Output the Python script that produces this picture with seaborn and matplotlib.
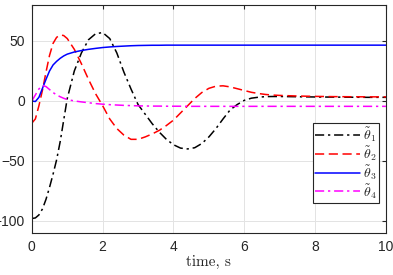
import pandas as pd
import seaborn as sns
import matplotlib.pyplot as plt

# time samples (s)
t = [0, 0.1, 0.2, 0.3, 0.4, 0.5, 0.6, 0.7, 0.8, 0.9, 1.0, 1.2, 1.4, 1.6, 1.8,
     2.0, 2.2, 2.4, 2.6, 2.8, 3.0, 3.2, 3.4, 3.6, 3.8, 4.0, 4.2, 4.4, 4.6, 4.8,
     5.0, 5.2, 5.4, 5.6, 5.8, 6.0, 6.2, 6.4, 6.6, 6.8, 7.0, 7.5, 8.0, 8.5, 9.0,
     9.5, 10.0]

theta1 = [-98, -97.5, -95, -90, -82, -72, -61, -49, -34, -16, 2, 25, 40, 51, 56,
          57, 52, 40, 24, 10, -3, -11, -19, -26, -32, -36.5, -39.3, -40, -39, -35.5,
          -30, -23, -15, -7.5, -3, 0.5, 2.3, 3.1, 3.6, 3.7, 3.7, 3.5, 3.3, 3.2, 3.1,
          3.0, 3.0]

theta2 = [-18.5, -15, -4, 9, 24, 38, 48, 53, 55, 54.5, 52, 43, 31, 18, 6,
          -4, -15, -23, -28.5, -32, -32, -30, -27.5, -24.5, -20.5, -16, -10, -4, 2, 7,
          10.5, 12.3, 12.6, 11.7, 10.2, 8.7, 7.2, 6.2, 5.4, 4.9, 4.6, 4.1, 3.8, 3.6, 3.5,
          3.4, 3.4]

theta3 = [0, -0.5, 3, 10.5, 18, 25, 30, 33, 35.5, 37.5, 39, 40.8, 42, 43, 43.8,
          44.5, 45, 45.4, 45.7, 46, 46.2, 46.3, 46.4, 46.4, 46.5, 46.5, 46.5, 46.5, 46.5, 46.5,
          46.5, 46.5, 46.5, 46.5, 46.5, 46.5, 46.5, 46.5, 46.5, 46.5, 46.5, 46.5, 46.5, 46.5, 46.5,
          46.5, 46.5]

theta4 = [0, 5, 10, 12.8, 12, 9.5, 7, 5, 3.5, 2.2, 1.2, 0, -0.8, -1.5, -2.2,
          -2.7, -3.1, -3.4, -3.7, -3.9, -4.1, -4.2, -4.3, -4.3, -4.4, -4.4, -4.4, -4.5, -4.5, -4.5,
          -4.5, -4.5, -4.5, -4.5, -4.5, -4.5, -4.5, -4.5, -4.5, -4.5, -4.5, -4.5, -4.5, -4.5, -4.5,
          -4.5, -4.5]

labels = [r'$\tilde{\theta}_1$', r'$\tilde{\theta}_2$', r'$\tilde{\theta}_3$', r'$\tilde{\theta}_4$']

df = pd.DataFrame({'t': t, labels[0]: theta1, labels[1]: theta2,
                   labels[2]: theta3, labels[3]: theta4})
df_long = df.melt(id_vars='t', var_name='signal', value_name='value')

sns.set_style('white')
plt.rcParams['font.family'] = ['Liberation Sans', 'DejaVu Sans']
plt.rcParams['mathtext.fontset'] = 'cm'

colors = ['black', '#ff0000', '#0000ff', '#ff00ff']
dashes = [(6, 2.5, 1.5, 2.5), (6, 3), '', (6, 2.5, 1.5, 2.5)]

fig = plt.figure(figsize=(3.93, 2.75), dpi=100)
ax = fig.add_axes([0.081, 0.153, 0.901, 0.829])

sns.lineplot(data=df_long, x='t', y='value', hue='signal', style='signal',
             palette=colors, dashes=dashes, linewidth=1.1, ax=ax)

ax.set_xlim(0, 10)
ax.set_ylim(-110, 80)
ax.set_xticks([0, 2, 4, 6, 8, 10])
ax.set_yticks([-100, -50, 0, 50])
ax.grid(True, color='#e3e3e3', linewidth=0.7)
ax.set_axisbelow(True)
ax.tick_params(direction='in', length=3, top=True, right=True, labelsize=10,
               color='#262626', labelcolor='#262626', pad=5)
for s in ax.spines.values():
    s.set_color('#262626')
    s.set_linewidth(0.8)

ax.set_xlabel('time, s', fontsize=11, labelpad=1, fontfamily='cmr10')
ax.set_ylabel('')

leg = ax.legend(loc='lower right', bbox_to_anchor=(0.981, 0.133), fontsize=10,
                handlelength=3.2, labelspacing=0.0, borderpad=0.15,
                handletextpad=0.25, borderaxespad=0, fancybox=False, framealpha=1,
                edgecolor='#262626')
leg.get_frame().set_linewidth(0.8)

fig.savefig('out.png', dpi=100)
